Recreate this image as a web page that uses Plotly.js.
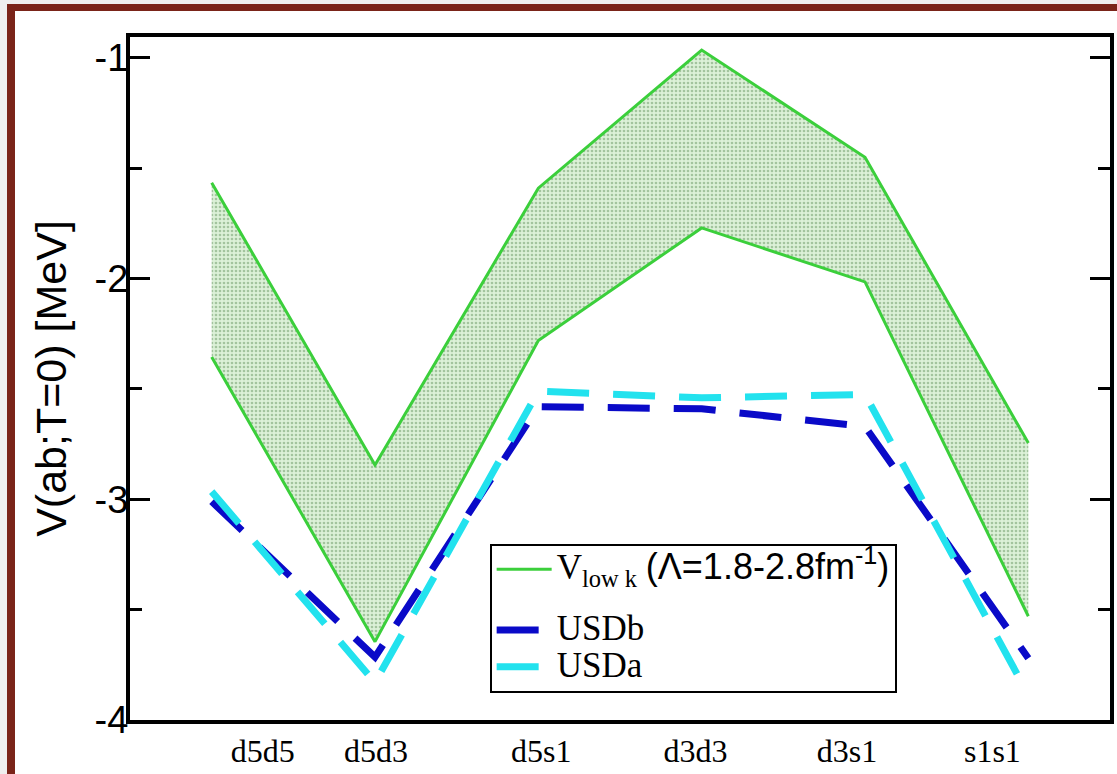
<!DOCTYPE html>
<html>
<head>
<meta charset="utf-8">
<script src="https://cdn.plot.ly/plotly-3.0.1.min.js"></script>
<style>
  html, body { margin: 0; padding: 0; background: #efefef; }
  #wrap { position: relative; width: 1117px; height: 774px; overflow: hidden; background: #efefef; }
  #frame { position: absolute; left: 7px; top: 4px; width: 1200px; height: 900px;
           border-left: 8px solid #7a2419; border-top: 7px solid #7a2419; background: #ffffff; }
  #chart { position: absolute; left: 0; top: 0; width: 1117px; height: 774px; }
</style>
</head>
<body>
<div id="wrap">
  <div id="frame"></div>
  <div id="chart"></div>
</div>
<script>
// ---- data ----
const categories = ["d5d5", "d5d3", "d5s1", "d3d3", "d3s1", "s1s1"];
const vlowkUpper = [-1.565, -2.845, -1.59, -0.964, -1.45, -2.745];
const vlowkLower = [-2.355, -3.645, -2.28, -1.77, -2.015, -3.53];
const usdb = [-3.01, -3.715, -2.58, -2.59, -2.67, -3.72];
const usda = [-2.965, -3.83, -2.51, -2.54, -2.525, -3.885];
const yTickVals = [-4, -3, -2, -1];
const yTickText = ["-4", "-3", "-2", "-1"];

// ---- layout helpers ----
const xs = categories.map((c, i) => i + 1);
const labelPos = [1.313, 2.006, 3.018, 3.963, 4.89, 5.78];

const green = "#3bcf3b";
const big = "font-size:35px";
const traces = [
  {
    x: xs, y: vlowkUpper, type: "scatter", mode: "lines",
    name: '<span style="' + big + '">V<sub>low k</sub> </span><span style="font-family:\'Liberation Sans\';font-size:36px">(Λ=1.8-2.8fm<sup>-1</sup>)</span>',
    line: { color: green, width: 3 },
    legendgroup: "a",
    showlegend: true
  },
  {
    x: xs, y: vlowkLower, type: "scatter", mode: "lines",
    line: { color: green, width: 3 },
    fill: "tonexty",
    fillcolor: "#d2ebcf",
    fillpattern: { shape: ".", fgcolor: "#a3c49e", bgcolor: "#dcf1d8", size: 4, solidity: 0.35 },
    legendgroup: "a",
    showlegend: false
  },
  {
    x: xs, y: usdb, type: "scatter", mode: "lines",
    name: '<span style="' + big + '">USDb</span>',
    legendgroup: "b",
    line: { color: "#0a0ac8", width: 7, dash: "42px,24px" }
  },
  {
    x: xs, y: usda, type: "scatter", mode: "lines",
    name: '<span style="' + big + '">USDa</span>',
    legendgroup: "b",
    line: { color: "#22e2ee", width: 7, dash: "42px,24px" }
  }
];

const layout = {
  width: 1117, height: 774,
  margin: { l: 130, r: 7, t: 37, b: 54, pad: 0 },
  paper_bgcolor: "rgba(0,0,0,0)",
  plot_bgcolor: "#ffffff",
  showlegend: true,
  legend: {
    x: 0.367, y: 0.258, xanchor: "left", yanchor: "top",
    traceorder: "grouped",
    tracegroupgap: 24,
    bgcolor: "#ffffff", bordercolor: "#000000", borderwidth: 2,
    font: { family: "Liberation Serif", size: 26, color: "#000" },
    itemwidth: 55
  },
  xaxis: {
    range: [0.5, 6.5],
    tickmode: "array", tickvals: labelPos, ticktext: categories,
    ticks: "", showgrid: false, zeroline: false,
    showline: true, linecolor: "#000", linewidth: 4, mirror: true,
    tickfont: { family: "Liberation Serif", size: 32, color: "#000" },
    ticklabelstandoff: 0
  },
  yaxis: {
    range: [-4, -0.905],
    tickmode: "array", tickvals: yTickVals, ticktext: yTickText,
    ticks: "inside", ticklen: 20, tickwidth: 3, tickcolor: "#000",
    minor: { dtick: 0.5, ticks: "inside", ticklen: 12, tickwidth: 3, tickcolor: "#000", showgrid: false },
    showgrid: false, zeroline: false,
    showline: true, linecolor: "#000", linewidth: 4, mirror: "ticks",
    tickfont: { family: "Liberation Sans", size: 38, color: "#000" },
    ticklabelstandoff: -10,
    title: { text: "V(ab;T=0) [MeV]", font: { family: "Liberation Sans", size: 43, color: "#000" }, standoff: 16 }
  }
};

Plotly.newPlot("chart", traces, layout, { displayModeBar: false, staticPlot: true });
</script>
</body>
</html>
